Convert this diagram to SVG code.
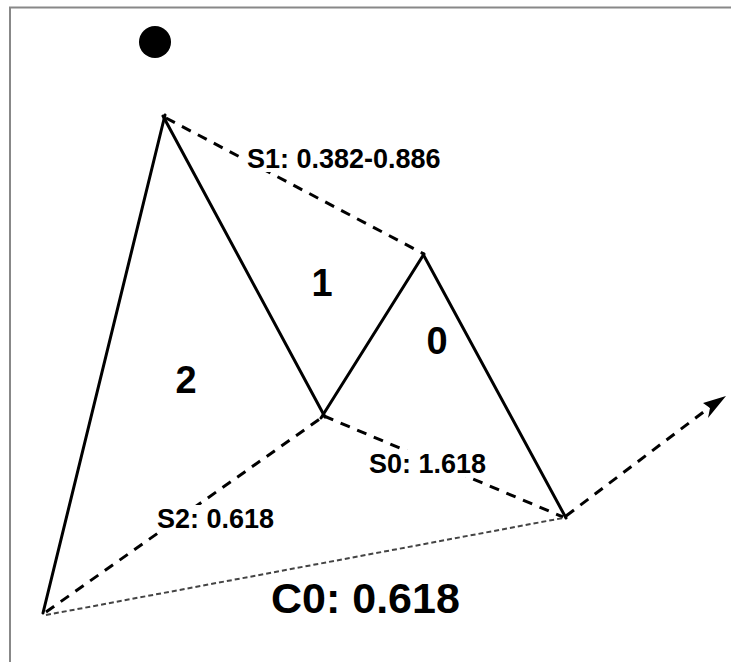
<svg xmlns="http://www.w3.org/2000/svg" width="731" height="662" viewBox="0 0 731 662">
<style>
.solid{stroke:#000;stroke-width:3;fill:none;stroke-linecap:round}
.dash{stroke:#000;stroke-width:3;fill:none;stroke-dasharray:10 8}
.dot{stroke:#444;stroke-width:2;fill:none;stroke-dasharray:5 3}
.lbl{font-family:"Liberation Sans",Arial,sans-serif;font-weight:bold;fill:#000}
.bg{fill:#fff}
</style>
<rect width="731" height="662" fill="#fff"/>
<path d="M10,662 V7.5 H731" fill="none" stroke="#888" stroke-width="2"/>
<g id="dot"><circle cx="155" cy="42" r="16" fill="#000"/></g>
<g id="connectors">
<line class="solid" x1="43" y1="613" x2="165" y2="115"/>
<line class="solid" x1="163" y1="116" x2="325" y2="417"/>
<line class="solid" x1="321" y1="418" x2="424" y2="254"/>
<line class="solid" x1="423" y1="254" x2="566" y2="518"/>
<line class="dash" x1="166" y1="118" x2="424" y2="254"/>
<line class="dash" x1="46" y1="612" x2="324" y2="416"/>
<line class="dash" x1="324" y1="416" x2="563" y2="517"/>
<line class="dot" x1="46" y1="615" x2="563" y2="518"/>
<path d="M566,516 L718,401" fill="none" stroke="#000" stroke-width="3" stroke-dasharray="10 8"/>
<path d="M726,396 L703,403 L710,408 L708,418 Z" fill="#000"/>
</g>
<g id="labels">
<rect class="bg" x="244" y="145" width="204" height="27"/>
<text class="lbl" x="247" y="168" font-size="27">S1: 0.382-0.886</text>
<rect class="bg" x="154" y="505" width="127" height="27"/>
<text class="lbl" x="157" y="528" font-size="27">S2: 0.618</text>
<rect class="bg" x="366" y="450" width="123" height="27"/>
<text class="lbl" x="369" y="473" font-size="27">S0: 1.618</text>
<text class="lbl" x="271" y="613" font-size="43">C0: 0.618</text>
<text class="lbl" x="322" y="296" font-size="38" text-anchor="middle">1</text>
<text class="lbl" x="186" y="393" font-size="38" text-anchor="middle">2</text>
<text class="lbl" x="437" y="354" font-size="38" text-anchor="middle">0</text>
</g>
</svg>
